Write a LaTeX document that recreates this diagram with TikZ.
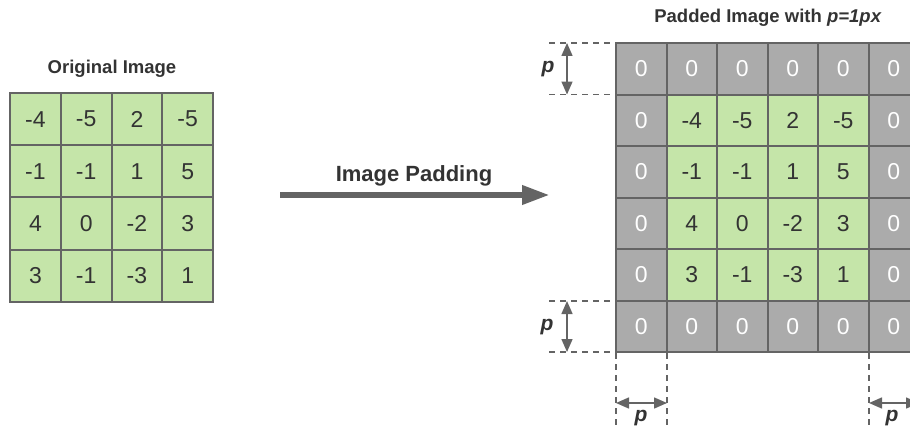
\documentclass[tikz,border=0pt]{standalone}
\usepackage{fontspec}
\setmainfont{Liberation Sans}
\usetikzlibrary{arrows.meta}
\definecolor{cellgreen}{HTML}{C5E5A9}
\definecolor{padgray}{HTML}{ABABAB}
\definecolor{edge}{HTML}{646464}
\definecolor{ink}{HTML}{333333}
\begin{document}
\begin{tikzpicture}[x=1pt,y=-1pt,
  cellbase/.style={draw=edge, line width=2pt, inner sep=0pt,
    font=\fontsize{23}{23}\selectfont},
  greencell/.style={cellbase, fill=cellgreen, text=ink},
  origcell/.style={greencell, minimum width=50.75pt, minimum height=52.25pt},
  padcell/.style={cellbase, minimum width=50.5pt, minimum height=51.5pt},
  zerocell/.style={padcell, fill=padgray, text=white},
  title/.style={font=\bfseries\fontsize{18.5}{18.5}\selectfont, text=ink},
  dimlabel/.style={font=\bfseries\itshape\fontsize{21}{21}\selectfont, text=ink},
  dimdash/.style={draw=edge, line width=1.2pt, dash pattern=on 6pt off 5pt},
  dimarrow/.style={draw=edge, line width=1.5pt,
    {Triangle[length=13pt,width=11pt]}-{Triangle[length=13pt,width=11pt]}},
  bigarrow/.style={draw=edge, line width=6.5pt, -{Triangle[length=28pt,width=18pt]}}
]
\useasboundingbox (0,0) rectangle (910,428);
\clip (0,0) rectangle (910,428);

% original 4x4 image
\node[title] (origtitle) at (112,69) {Original Image};
\foreach \v [count=\i from 0] in {-4,-5,2,-5,-1,-1,1,5,4,0,-2,3,3,-1,-3,1} {
  \pgfmathtruncatemacro\r{int(\i/4)}
  \pgfmathtruncatemacro\c{mod(\i,4)}
  \node[origcell] (o-\r-\c) at ({35.4+50.75*\c},{119.1+52.25*\r}) {\v};
}

% padding arrow
\node[font=\bfseries\fontsize{22}{22}\selectfont, text=ink] (padlabel) at (414,176) {Image Padding};
\coordinate (arrowstart) at (280,195);
\coordinate (arrowend) at (550,195);
\draw[bigarrow] (arrowstart) -- (arrowend);

% padded 6x6 image
\node[title] (padtitle) at (768,18) {Padded Image with \textit{p=1px}};
\foreach \r in {0,...,5} {
  \foreach \c in {0,...,5} {
    \pgfmathsetmacro\px{616+25.25+50.5*\c}
    \pgfmathsetmacro\py{43+25.75+51.5*\r}
    \pgfmathtruncatemacro\inner{(\r>0)&&(\r<5)&&(\c>0)&&(\c<5)}
    \ifnum\inner=1
      \pgfmathtruncatemacro\k{4*(\r-1)+(\c-1)}
      \pgfmathtruncatemacro\v{{-4,-5,2,-5,-1,-1,1,5,4,0,-2,3,3,-1,-3,1}[\k]}
      \node[padcell, greencell] (p-\r-\c) at (\px,\py) {\v};
    \else
      \node[zerocell] (p-\r-\c) at (\px,\py) {0};
    \fi
  }
}

% top padding dimension
\coordinate (tdl1) at (549,43);
\coordinate (tdl2) at (549,94.5);
\coordinate (tdr1) at (616,43);
\coordinate (tdr2) at (616,94.5);
\draw[dimdash] (tdl1) -- (tdr1);
\draw[dimdash] (tdl2) -- (tdr2);
\coordinate (ta1) at (567,43);
\coordinate (ta2) at (567,94.5);
\draw[dimarrow] (ta1) -- (ta2);
\node[dimlabel] (ptop) at (548,69) {p};

% bottom padding dimension
\coordinate (bdl1) at (549,301);
\coordinate (bdl2) at (549,352);
\coordinate (bdr1) at (616,301);
\coordinate (bdr2) at (616,352);
\draw[dimdash] (bdl1) -- (bdr1);
\draw[dimdash] (bdl2) -- (bdr2);
\coordinate (ba1) at (567,301);
\coordinate (ba2) at (567,352);
\draw[dimarrow] (ba1) -- (ba2);
\node[dimlabel] (pbottom) at (547,327) {p};

% left padding dimension
\coordinate (lv1) at (616,353);
\coordinate (lv1b) at (616,428);
\coordinate (lv2) at (667,353);
\coordinate (lv2b) at (667,428);
\draw[dimdash] (lv1) -- (lv1b);
\draw[dimdash] (lv2) -- (lv2b);
\coordinate (la1) at (616,403);
\coordinate (la2) at (667,403);
\draw[dimarrow] (la1) -- (la2);
\node[dimlabel] (pleft) at (641,418) {p};

% right padding dimension
\coordinate (rv1) at (869,353);
\coordinate (rv1b) at (869,428);
\draw[dimdash] (rv1) -- (rv1b);
\coordinate (ra1) at (869,403);
\coordinate (ra2) at (919,403);
\draw[dimarrow] (ra1) -- (ra2);
\node[dimlabel] (pright) at (892,418) {p};
\end{tikzpicture}
\end{document}
